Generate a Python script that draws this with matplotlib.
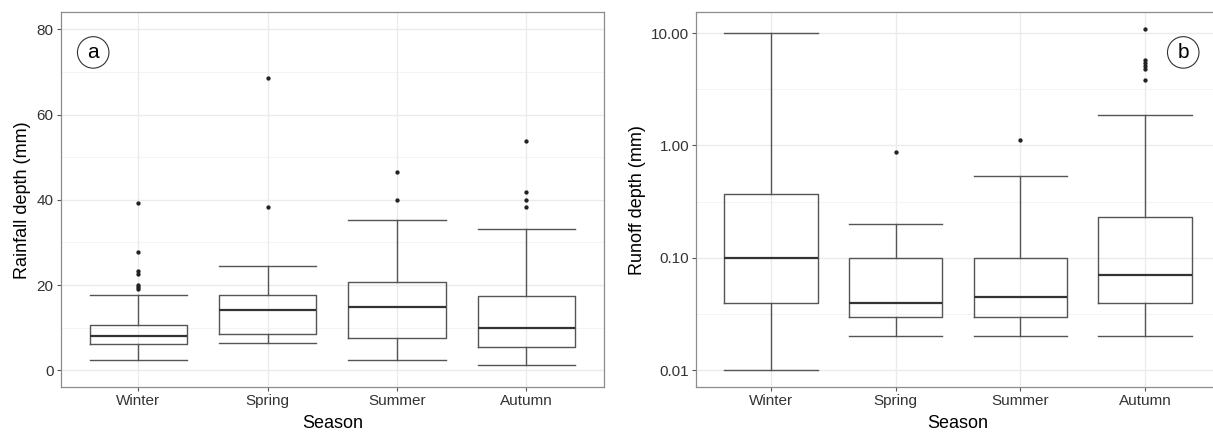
import numpy as np
import matplotlib
matplotlib.use("Agg")
import matplotlib.pyplot as plt
from matplotlib.ticker import FixedLocator, FuncFormatter, NullFormatter

plt.rcParams['font.family'] = ['Liberation Sans', 'DejaVu Sans']

seasons = ['Winter', 'Spring', 'Summer', 'Autumn']

# rainfall depth (mm), panel a
rain_low = [2.5, 6.3, 2.5, 1.3]
rain_q1 = [6.1, 8.4, 7.5, 5.4]
rain_med = [8.0, 14.2, 14.9, 9.8]
rain_q3 = [10.7, 17.7, 20.6, 17.4]
rain_high = [17.6, 24.5, 35.2, 33.2]
rain_out = [[19.0, 19.6, 20.0, 22.6, 23.4, 27.8, 39.2],
            [38.3, 68.6],
            [40.0, 46.6],
            [38.4, 40.0, 41.9, 53.8]]

# runoff depth (mm), panel b
run_low = [0.01, 0.02, 0.02, 0.02]
run_q1 = [0.04, 0.03, 0.03, 0.04]
run_med = [0.10, 0.04, 0.045, 0.071]
run_q3 = [0.37, 0.10, 0.10, 0.233]
run_high = [10.0, 0.20, 0.53, 1.87]
run_out = [[], [0.87], [1.12], [3.85, 4.8, 5.1, 5.4, 5.8, 10.8]]


def make_stats(low, q1, med, q3, high, out):
    return [dict(whislo=a, q1=b, med=c, q3=d, whishi=e, fliers=f)
            for a, b, c, d, e, f in zip(low, q1, med, q3, high, out)]


def style_axes(ax):
    ax.set_facecolor('white')
    for s in ax.spines.values():
        s.set_color('#8c8c8c')
        s.set_linewidth(0.9)
    ax.set_xlim(0.4, 4.6)
    ax.set_xticks(range(1, 5))
    ax.set_xticklabels(seasons)
    ax.tick_params(axis='both', which='major', length=3, width=0.8,
                   color='#555555', labelsize=11, labelcolor='#333333', pad=2)
    ax.tick_params(axis='both', which='minor', length=0)
    ax.grid(True, which='major', color='#ebebeb', linewidth=1.0)
    ax.grid(True, which='minor', axis='y', color='#f2f2f2', linewidth=0.6)
    ax.set_axisbelow(True)
    ax.set_xlabel('Season', fontsize=13, labelpad=5)


def draw_box(ax, stats):
    ax.bxp(stats, positions=range(1, 5), widths=0.75, capwidths=0.75,
           showfliers=True, patch_artist=False,
           boxprops=dict(color='#555555', linewidth=1.0),
           whiskerprops=dict(color='#555555', linewidth=1.0),
           capprops=dict(color='#555555', linewidth=1.0),
           medianprops=dict(color='#333333', linewidth=1.6),
           flierprops=dict(marker='o', markersize=2.1, markerfacecolor='#222222',
                           markeredgecolor='#222222', linestyle='none'))


fig = plt.figure(figsize=(12.13, 4.32), dpi=100)

# panel a
ax1 = fig.add_axes([60.6 / 1213, 44.7 / 432, 543.4 / 1213, 375 / 432])
draw_box(ax1, make_stats(rain_low, rain_q1, rain_med, rain_q3, rain_high, rain_out))
style_axes(ax1)
ax1.set_ylim(-4, 84)
ax1.yaxis.set_major_locator(FixedLocator([0, 20, 40, 60, 80]))
ax1.yaxis.set_minor_locator(FixedLocator([10, 30, 50, 70]))
ax1.yaxis.set_minor_formatter(NullFormatter())
ax1.set_ylabel('Rainfall depth (mm)', fontsize=13, labelpad=4)
ax1.text(0.060, 0.893, 'a', transform=ax1.transAxes, fontsize=15,
         ha='center', va='center',
         bbox=dict(boxstyle='circle,pad=0.3', fc='white', ec='#333333', lw=0.8))

# panel b (runs past the right edge of the figure, as in the reference)
ax2 = fig.add_axes([696.2 / 1213, 44.7 / 432, 523.7 / 1213, 375 / 432])
draw_box(ax2, make_stats(run_low, run_q1, run_med, run_q3, run_high, run_out))
style_axes(ax2)
ax2.spines['right'].set_visible(False)
ax2.set_yscale('log')
ax2.set_ylim(10 ** -2.152, 10 ** 1.185)
ax2.yaxis.set_major_locator(FixedLocator([0.01, 0.1, 1, 10]))
ax2.yaxis.set_major_formatter(FuncFormatter(lambda v, p: f'{v:.2f}'))
ax2.yaxis.set_minor_locator(FixedLocator([10 ** -1.5, 10 ** -0.5, 10 ** 0.5]))
ax2.yaxis.set_minor_formatter(NullFormatter())
ax2.set_ylabel('Runoff depth (mm)', fontsize=13, labelpad=4)
ax2.text(0.930, 0.893, 'b', transform=ax2.transAxes, fontsize=15,
         ha='center', va='center',
         bbox=dict(boxstyle='circle,pad=0.3', fc='white', ec='#333333', lw=0.8))

fig.savefig('out.png', dpi=100)
